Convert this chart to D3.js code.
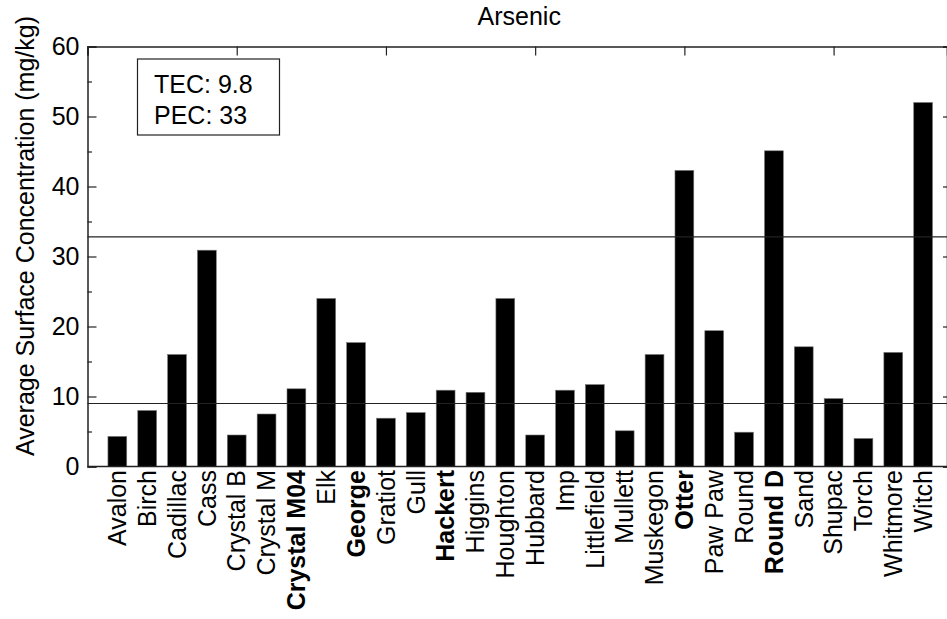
<!DOCTYPE html>
<html>
<head>
<meta charset="utf-8">
<script src="https://cdn.jsdelivr.net/npm/d3@7"></script>
<style>
  html, body { margin: 0; padding: 0; background: #fff; }
  svg { display: block; font-family: Arial, "Liberation Sans", sans-serif; }
</style>
</head>
<body>
<svg id="chart" width="947" height="619"></svg>
<script>
// ---- data ----
const categories = ["Avalon","Birch","Cadillac","Cass","Crystal B","Crystal M","Crystal M04","Elk","George","Gratiot","Gull","Hackert","Higgins","Houghton","Hubbard","Imp","Littlefield","Mullett","Muskegon","Otter","Paw Paw","Round","Round D","Sand","Shupac","Torch","Whitmore","Witch"];
const values = [4.3, 8.0, 16.0, 30.9, 4.5, 7.5, 11.1, 24.0, 17.7, 6.9, 7.7, 10.9, 10.6, 24.0, 4.5, 10.9, 11.7, 5.1, 16.0, 42.3, 19.4, 4.9, 45.1, 17.1, 9.7, 4.0, 16.3, 52.0];
const boldCategories = ["Crystal M04","George","Hackert","Otter","Round D"];
const guideLines = [9.0, 32.8];
const legendLines = ["TEC: 9.8", "PEC: 33"];
const yMajorTicks = [0, 10, 20, 30, 40, 50, 60];
const yMinorTicks = [5, 15, 25, 35, 45, 55];
const topTicks = [-1, 4, 9, 14, 19, 24];
const title = "Arsenic";
const yLabel = "Average Surface Concentration (mg/kg)";

(function () {
// ---- layout ----
const svg = d3.select("#chart");
const pLeft = 87.5, pRight = 947, pTop = 46.5, pBottom = 466.5;
const fs = 25;

const x = d3.scaleLinear().domain([-1, 27.8]).range([pLeft, pRight]);
const y = d3.scaleLinear().domain([0, 60]).range([pBottom, pTop]);
const step = x(1) - x(0);
const barW = step * 0.63;

// bars
svg.append("g").selectAll("rect").data(values).join("rect")
  .attr("x", (d, i) => x(i) - barW / 2)
  .attr("y", d => y(d))
  .attr("width", barW)
  .attr("height", d => pBottom - y(d))
  .attr("fill", "#000")
  .attr("stroke", "#777")
  .attr("stroke-width", 0.6);

// guide lines
svg.append("g").selectAll("line").data(guideLines).join("line")
  .attr("x1", pLeft).attr("x2", pRight)
  .attr("y1", d => y(d)).attr("y2", d => y(d))
  .attr("stroke", "#222").attr("stroke-width", 1.2);

// left axis
const yAxisL = d3.axisLeft(y).tickValues(yMajorTicks).tickSize(-9).tickPadding(8).tickFormat(d3.format("d"));
const gL = svg.append("g").attr("transform", `translate(${pLeft},0)`).call(yAxisL);
gL.select(".domain").attr("stroke", "#222").attr("stroke-width", 1.5);
gL.selectAll(".tick line").attr("stroke", "#222").attr("stroke-width", 1.2);
gL.selectAll(".tick text").attr("font-size", fs).attr("fill", "#000")
  .attr("font-family", "Arial, 'Liberation Sans', sans-serif");
const yAxisLMinor = d3.axisLeft(y).tickValues(yMinorTicks).tickSize(-4.5).tickFormat("");
const gLm = svg.append("g").attr("transform", `translate(${pLeft},0)`).call(yAxisLMinor);
gLm.select(".domain").remove();
gLm.selectAll(".tick line").attr("stroke", "#222").attr("stroke-width", 1.2);

// right axis ticks
const yAxisR = d3.axisRight(y).tickValues(yMajorTicks).tickSize(-4).tickFormat("");
const gR = svg.append("g").attr("transform", `translate(${pRight},0)`).call(yAxisR);
gR.select(".domain").attr("stroke", "#222").attr("stroke-width", 1.5);
gR.selectAll(".tick line").attr("stroke", "#222").attr("stroke-width", 1.2);

// top axis
const xAxisT = d3.axisTop(x).tickValues(topTicks).tickSize(-9).tickFormat("");
const gT = svg.append("g").attr("transform", `translate(0,${pTop})`).call(xAxisT);
gT.select(".domain").attr("stroke", "#222").attr("stroke-width", 1.5);
gT.selectAll(".tick line").attr("stroke", "#222").attr("stroke-width", 1.2);

// bottom axis line
svg.append("line").attr("x1", pLeft).attr("x2", pRight).attr("y1", pBottom).attr("y2", pBottom)
  .attr("stroke", "#222").attr("stroke-width", 1.5);

// category labels
svg.append("g").selectAll("text").data(categories).join("text")
  .attr("transform", (d, i) => `translate(${x(i)},${pBottom + 3.5}) rotate(-90)`)
  .attr("text-anchor", "end")
  .attr("dy", "0.35em")
  .attr("font-size", fs)
  .attr("font-weight", d => boldCategories.includes(d) ? "bold" : "normal")
  .text(d => d);

// title
svg.append("text").attr("x", (pLeft + pRight) / 2 + 2).attr("y", 25)
  .attr("text-anchor", "middle").attr("font-size", fs).text(title);

// y label
svg.append("text")
  .attr("transform", `translate(34,236) rotate(-90)`)
  .attr("text-anchor", "middle").attr("font-size", fs).text(yLabel);

// legend box
const lg = svg.append("g");
lg.append("rect").attr("x", 137.5).attr("y", 59).attr("width", 142).attr("height", 76)
  .attr("fill", "#fff").attr("stroke", "#222").attr("stroke-width", 1.2);
lg.selectAll("text").data(legendLines).join("text")
  .attr("x", 154).attr("y", (d, i) => 92.5 + i * 31.8)
  .attr("font-size", fs).text(d => d);
})();
</script>
</body>
</html>
